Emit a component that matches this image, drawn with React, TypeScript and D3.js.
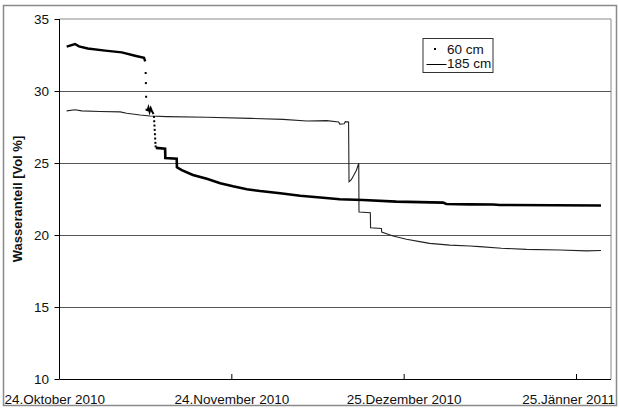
import React from "react";
import * as d3 from "d3";

// ---- data ----
const xTickDates = ["2010-10-24 00:00", "2010-11-24 00:00", "2010-12-25 00:00", "2011-01-25 00:00"];
const xTickLabels = ["24.Oktober 2010", "24.November 2010", "25.Dezember 2010", "25.Jänner 2011"];
const yTicks = [10, 15, 20, 25, 30, 35];
const gridValues = [15, 20, 25, 30];

// 60 cm: continuous readings (dense, appear as a thick dotted band)
const cm60Times = [
  "2010-10-25 07:00", "2010-10-26 19:00", "2010-10-27 12:00", "2010-10-29 02:00", "2010-11-01 05:00",
  "2010-11-04 05:00", "2010-11-06 14:00", "2010-11-08 05:00", "2010-11-08 10:00",
];
const cm60Values = [33.08, 33.26, 33.1, 32.95, 32.8, 32.68, 32.45, 32.3, 32.05];

// 60 cm: isolated readings during the rapid drop
const cm60DropTimes = [
  "2010-11-08 12:00", "2010-11-08 13:00", "2010-11-08 14:00", "2010-11-08 16:00",
];
const cm60DropValues = [31.25, 30.55, 29.6, 28.7];

// 60 cm: wiggle after the drop
const cm60WiggleTimes = [
  "2010-11-08 19:00", "2010-11-09 00:00", "2010-11-09 05:00", "2010-11-09 10:00", "2010-11-09 15:00", "2010-11-09 22:00",
];
const cm60WiggleValues = [28.6, 28.85, 28.55, 28.8, 28.6, 28.4];

// 60 cm: second (dotted) descent
const cm60Drop2Times = [
  "2010-11-10 00:00", "2010-11-10 01:00", "2010-11-10 02:00", "2010-11-10 03:00", "2010-11-10 04:00",
  "2010-11-10 05:00", "2010-11-10 06:00", "2010-11-10 07:00",
];
const cm60Drop2Values = [28.2, 27.9, 27.6, 27.3, 27.0, 26.7, 26.4, 26.15];

// 60 cm: after the descent
const cm60LateTimes = [
  "2010-11-10 08:00", "2010-11-12 00:00", "2010-11-12 01:00", "2010-11-14 02:00", "2010-11-14 03:00",
  "2010-11-15 00:00", "2010-11-17 00:00", "2010-11-19 12:00", "2010-11-21 22:00", "2010-11-24 05:00",
  "2010-11-26 17:00", "2010-11-29 02:00", "2010-12-02 17:00", "2010-12-06 07:00", "2010-12-09 22:00",
  "2010-12-13 10:00", "2010-12-17 14:00", "2010-12-23 14:00", "2011-01-01 00:00", "2011-01-01 14:00",
  "2011-01-05 19:00", "2011-01-10 00:00", "2011-01-11 05:00", "2011-01-21 00:00", "2011-01-29 10:00",
];
const cm60LateValues = [
  26.05, 26.0, 25.35, 25.3, 24.7,
  24.5, 24.17, 23.9, 23.6, 23.38,
  23.18, 23.05, 22.9, 22.73, 22.6,
  22.48, 22.43, 22.32, 22.25, 22.15,
  22.13, 22.12, 22.08, 22.07, 22.05,
];

// 185 cm: thin line
const cm185Times = [
  "2010-10-25 07:00", "2010-10-26 19:00", "2010-10-28 00:00", "2010-10-31 07:00", "2010-11-03 22:00",
  "2010-11-05 02:00", "2010-11-07 12:00", "2010-11-09 07:00", "2010-11-12 07:00", "2010-11-19 12:00",
  "2010-11-27 07:00", "2010-12-03 05:00", "2010-12-07 12:00", "2010-12-11 02:00", "2010-12-13 05:00",
  "2010-12-13 10:00", "2010-12-14 05:00", "2010-12-14 10:00", "2010-12-15 00:00", "2010-12-15 02:00",
  "2010-12-15 12:00", "2010-12-15 19:00", "2010-12-16 10:00", "2010-12-16 20:00", "2010-12-16 21:00",
  "2010-12-18 22:00", "2010-12-18 23:00", "2010-12-20 22:00", "2010-12-20 23:00", "2010-12-23 00:00",
  "2010-12-25 10:00", "2010-12-27 19:00", "2010-12-29 14:00", "2011-01-02 05:00", "2011-01-05 19:00",
  "2011-01-07 14:00", "2011-01-11 12:00", "2011-01-16 00:00", "2011-01-22 00:00", "2011-01-26 19:00",
  "2011-01-29 10:00",
];
const cm185Values = [
  28.62, 28.7, 28.62, 28.58, 28.55,
  28.45, 28.33, 28.26, 28.22, 28.18,
  28.1, 28.03, 27.92, 27.94, 27.85,
  27.7, 27.72, 27.87, 27.85, 23.7,
  23.85, 24.05, 24.5, 24.98, 21.6,
  21.55, 20.5, 20.45, 20.2, 19.93,
  19.7, 19.54, 19.42, 19.3, 19.24,
  19.19, 19.08, 19.0, 18.96, 18.9,
  18.92,
];

const legendLabels = ["60 cm", "185 cm"];

// ---- chart ----
const W = 619;
const H = 409;
const M = { left: 59.5, right: 611, top: 19, bottom: 379 };
const FONT = "'Liberation Sans', Arial, sans-serif";

const parse = d3.timeParse("%Y-%m-%d %H:%M");
const zip = (t: string[], v: number[]) => t.map((s, i) => ({ date: parse(s) as Date, value: v[i] }));

export default function App() {
  const x = d3
    .scaleTime()
    .domain([parse("2010-10-24 00:00") as Date, parse("2011-01-31 05:00") as Date])
    .range([M.left, M.right]);
  const y = d3.scaleLinear().domain([10, 35]).range([M.bottom, M.top]);

  const line = d3
    .line<{ date: Date; value: number }>()
    .x((d) => x(d.date))
    .y((d) => y(d.value));

  const s60a = zip(cm60Times, cm60Values);
  const s60drop = zip(cm60DropTimes, cm60DropValues);
  const s60wig = zip(cm60WiggleTimes, cm60WiggleValues);
  const s60drop2 = zip(cm60Drop2Times, cm60Drop2Values);
  const s60late = zip(cm60LateTimes, cm60LateValues);
  const s185 = zip(cm185Times, cm185Values);

  const ticks = xTickDates.map((s) => parse(s) as Date);
  const labelFs = 13.5;

  return (
    <svg width={W} height={H} style={{ position: "absolute", left: 0, top: 0, background: "#fff" }} fontFamily={FONT}>
      <rect x={3.5} y={5.5} width={613} height={400} fill="#fff" stroke="#8a8a8a" strokeWidth={1.5} />

      {/* plot frame top/right */}
      <line x1={M.left} x2={M.right} y1={M.top} y2={M.top} stroke="#8a8a8a" strokeWidth={1} />
      <line x1={M.right} x2={M.right} y1={M.top} y2={M.bottom} stroke="#8a8a8a" strokeWidth={1} />

      {/* grid */}
      {gridValues.map((v) => (
        <line key={v} x1={M.left} x2={M.right} y1={Math.round(y(v)) + 0.5} y2={Math.round(y(v)) + 0.5} stroke="#555" strokeWidth={1} />
      ))}

      {/* y axis */}
      <line x1={M.left} x2={M.left} y1={M.top} y2={M.bottom} stroke="#000" strokeWidth={1} />
      {yTicks.map((v) => (
        <g key={v}>
          <line x1={M.left - 5} x2={M.left} y1={Math.round(y(v)) + 0.5} y2={Math.round(y(v)) + 0.5} stroke="#000" />
          <text x={49} y={y(v)} dy="0.35em" textAnchor="end" fontSize={13.5} fill="#111">
            {v}
          </text>
        </g>
      ))}
      <text
        transform={`translate(22,${(M.top + M.bottom) / 2}) rotate(-90)`}
        textAnchor="middle"
        fontSize={13}
        fontWeight="bold"
        fill="#111"
      >
        Wasseranteil [Vol %]
      </text>

      {/* x axis */}
      <line x1={M.left} x2={M.right} y1={M.bottom + 0.5} y2={M.bottom + 0.5} stroke="#000" strokeWidth={1} />
      {ticks.map((d, i) => {
        const last = i === ticks.length - 1;
        const first = i === 0;
        return (
          <g key={i}>
            {i > 0 && <line x1={x(d)} x2={x(d)} y1={M.bottom} y2={M.bottom - 5} stroke="#000" />}
            <text
              x={first ? 4.5 : last ? 615 : x(d)}
              y={404}
              textAnchor={first ? "start" : last ? "end" : "middle"}
              fontSize={labelFs}
              fill="#111"
            >
              {xTickLabels[i]}
            </text>
          </g>
        );
      })}

      {/* 185 cm */}
      <path d={line(s185) || ""} fill="none" stroke="#222" strokeWidth={1.1} />

      {/* 60 cm */}
      <path d={line(s60a) || ""} fill="none" stroke="#000" strokeWidth={2.4} />
      {s60drop.map((d, i) => (
        <rect key={"a" + i} x={x(d.date) - 1} y={y(d.value) - 1} width={2} height={2} fill="#000" />
      ))}
      <path d={line(s60wig) || ""} fill="none" stroke="#000" strokeWidth={2} />
      {s60drop2.map((d, i) => (
        <rect key={"b" + i} x={x(d.date) - 1} y={y(d.value) - 1} width={2} height={2} fill="#000" />
      ))}
      <path d={line(s60late) || ""} fill="none" stroke="#000" strokeWidth={2.6} />

      {/* legend */}
      <rect x={423} y={38.5} width={70} height={34} fill="#fff" stroke="#333" strokeWidth={1} />
      <rect x={434} y={48} width={2} height={2} fill="#000" />
      <text x={447} y={49} dy="0.35em" fontSize={13.5} fill="#111">
        {legendLabels[0]}
      </text>
      <line x1={426.5} x2={446.5} y1={64.5} y2={64.5} stroke="#000" strokeWidth={1} />
      <text x={447} y={63} dy="0.35em" fontSize={13.5} fill="#111">
        {legendLabels[1]}
      </text>
    </svg>
  );
}
